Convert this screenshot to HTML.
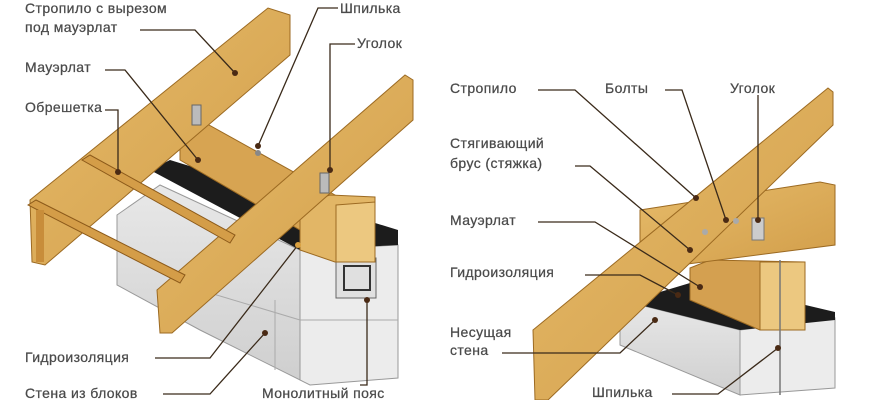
<!DOCTYPE html>
<html><head><meta charset="utf-8"><style>
html,body{margin:0;padding:0;background:#fff;width:870px;height:400px;overflow:hidden}
svg{display:block}
text{font-family:"Liberation Sans",sans-serif;font-size:14px;fill:#4a4a4a;letter-spacing:0.4px;stroke:#4a4a4a;stroke-width:0.25}
.l{stroke:#3a2a1a;stroke-width:1.3;fill:none}
.d{fill:#4a2a14}
</style></head><body>
<svg width="870" height="400" viewBox="0 0 870 400">
<defs>
<linearGradient id="w" x1="0" y1="0" x2="1" y2="1"><stop offset="0" stop-color="#e6bb6a"/><stop offset="1" stop-color="#d29e4a"/></linearGradient>
<linearGradient id="g" x1="0" y1="0" x2="0" y2="1"><stop offset="0" stop-color="#e8e8e8"/><stop offset="1" stop-color="#cfcfcf"/></linearGradient>
</defs>
<!-- LEFT -->
<polygon points="117,215 160,185 300,250 300,380 200,330 117,285" fill="url(#g)" stroke="#999"/>
<polygon points="300,250 398,245 398,378 310,385 300,380" fill="#ececec" stroke="#999"/>
<line x1="200" y1="290" x2="300" y2="320" stroke="#aaa"/>
<line x1="300" y1="320" x2="398" y2="320" stroke="#aaa"/>
<line x1="275" y1="300" x2="275" y2="370" stroke="#aaa"/>
<polygon points="150,170 170,160 398,230 398,245 300,250" fill="#1c1c1c"/>
<rect x="336" y="258" width="40" height="40" fill="#e0e0e0" stroke="#666"/>
<rect x="344" y="266" width="26" height="24" fill="none" stroke="#333" stroke-width="2"/>
<polygon points="180,128 200,120 335,195 335,210 300,230 180,160" fill="#d7a452" stroke="#9c6a22"/>
<polygon points="300,205 330,195 375,197 375,262 335,262 300,250" fill="#e2b666" stroke="#9c6a22"/>
<polygon points="336,205 375,202 375,262 336,262" fill="#ecc880" stroke="#9c6a22"/>
<polygon points="30,200 268,8 290,15 290,55 45,265 32,262" fill="url(#w)" stroke="#9c6a22"/>
<polygon points="157,290 405,75 413,80 413,120 172,333 160,333" fill="url(#w)" stroke="#9c6a22"/>
<polygon points="28,205 36,200 185,275 180,283" fill="#d49d48" stroke="#8c5a1a"/>
<polygon points="82,160 90,155 235,235 230,243" fill="#d49d48" stroke="#8c5a1a"/>
<polygon points="36,210 44,210 44,262 36,262" fill="#c88d3a"/>
<rect x="192" y="105" width="9" height="20" fill="#bbb" stroke="#666"/>
<rect x="320" y="173" width="9" height="20" fill="#bbb" stroke="#666"/>
<circle cx="258" cy="153" r="3" fill="#888"/>
<text x="25" y="13">Стропило с вырезом</text>
<text x="25" y="32">под мауэрлат</text>
<polyline class="l" points="140,30 195,30 235,73"/><circle class="d" cx="235" cy="73" r="3"/>
<text x="25" y="72">Мауэрлат</text>
<polyline class="l" points="105,70 125,70 198,160"/><circle class="d" cx="198" cy="160" r="3"/>
<text x="25" y="112">Обрешетка</text>
<polyline class="l" points="105,110 118,110 118,172"/><circle class="d" cx="118" cy="172" r="3"/>
<text x="340" y="13">Шпилька</text>
<polyline class="l" points="338,8 318,8 258,146"/><circle class="d" cx="258" cy="146" r="3"/>
<text x="357" y="48">Уголок</text>
<polyline class="l" points="355,44 330,44 330,170"/><circle class="d" cx="330" cy="170" r="3"/>
<text x="25" y="362">Гидроизоляция</text>
<polyline class="l" points="155,358 210,358 298,245"/><circle fill="#d9a040" cx="298" cy="245" r="3"/>
<text x="25" y="398">Стена из блоков</text>
<polyline class="l" points="163,394 210,394 265,333"/><circle class="d" cx="265" cy="333" r="3"/>
<text x="262" y="398">Монолитный пояс</text>
<polyline class="l" points="367,300 367,385 360,385"/><circle class="d" cx="367" cy="300" r="3"/>
<!-- RIGHT -->
<polygon points="620,300 740,330 740,395 620,345" fill="url(#g)" stroke="#999"/>
<polygon points="740,330 835,318 835,388 740,395" fill="#ececec" stroke="#999"/>
<polygon points="660,292 700,280 835,312 835,320 740,330 620,300" fill="#1c1c1c"/>
<polygon points="690,268 710,260 805,262 805,330 760,330 690,300" fill="#d4a050" stroke="#9c6a22"/>
<polygon points="760,262 805,262 805,330 760,330" fill="#ecc880" stroke="#9c6a22"/>
<line x1="780" y1="260" x2="780" y2="395" stroke="#777" stroke-width="1.5"/>
<polygon points="640,210 820,182 835,185 835,245 680,265 640,245" fill="url(#w)" stroke="#9c6a22"/>
<polygon points="533,330 828,88 833,92 833,125 548,400 535,400" fill="url(#w)" stroke="#9c6a22"/>
<rect x="752" y="218" width="12" height="22" fill="#ccc" stroke="#777"/>
<circle cx="736" cy="221" r="3" fill="#aaa"/><circle cx="705" cy="232" r="3" fill="#aaa"/>
<text x="450" y="93">Стропило</text>
<polyline class="l" points="538,90 575,90 696,198"/><circle class="d" cx="696" cy="198" r="3"/>
<text x="605" y="93">Болты</text>
<polyline class="l" points="665,90 682,90 726,220"/><circle class="d" cx="726" cy="220" r="3"/>
<text x="730" y="93">Уголок</text>
<polyline class="l" points="758,95 758,220"/><circle class="d" cx="758" cy="220" r="3"/>
<text x="450" y="148">Стягивающий</text>
<text x="450" y="168">брус (стяжка)</text>
<polyline class="l" points="575,166 590,166 690,250"/><circle class="d" cx="690" cy="250" r="3"/>
<text x="450" y="225">Мауэрлат</text>
<polyline class="l" points="538,222 595,222 700,287"/><circle class="d" cx="700" cy="287" r="3"/>
<text x="450" y="277">Гидроизоляция</text>
<polyline class="l" points="585,275 640,275 678,295"/><circle class="d" cx="678" cy="295" r="3"/>
<text x="450" y="337">Несущая</text>
<text x="450" y="355">стена</text>
<polyline class="l" points="502,353 620,353 655,320"/><circle class="d" cx="655" cy="320" r="3"/>
<text x="592" y="397">Шпилька</text>
<polyline class="l" points="672,394 718,394 778,348"/><circle class="d" cx="778" cy="348" r="3"/>
</svg>
</body></html>
